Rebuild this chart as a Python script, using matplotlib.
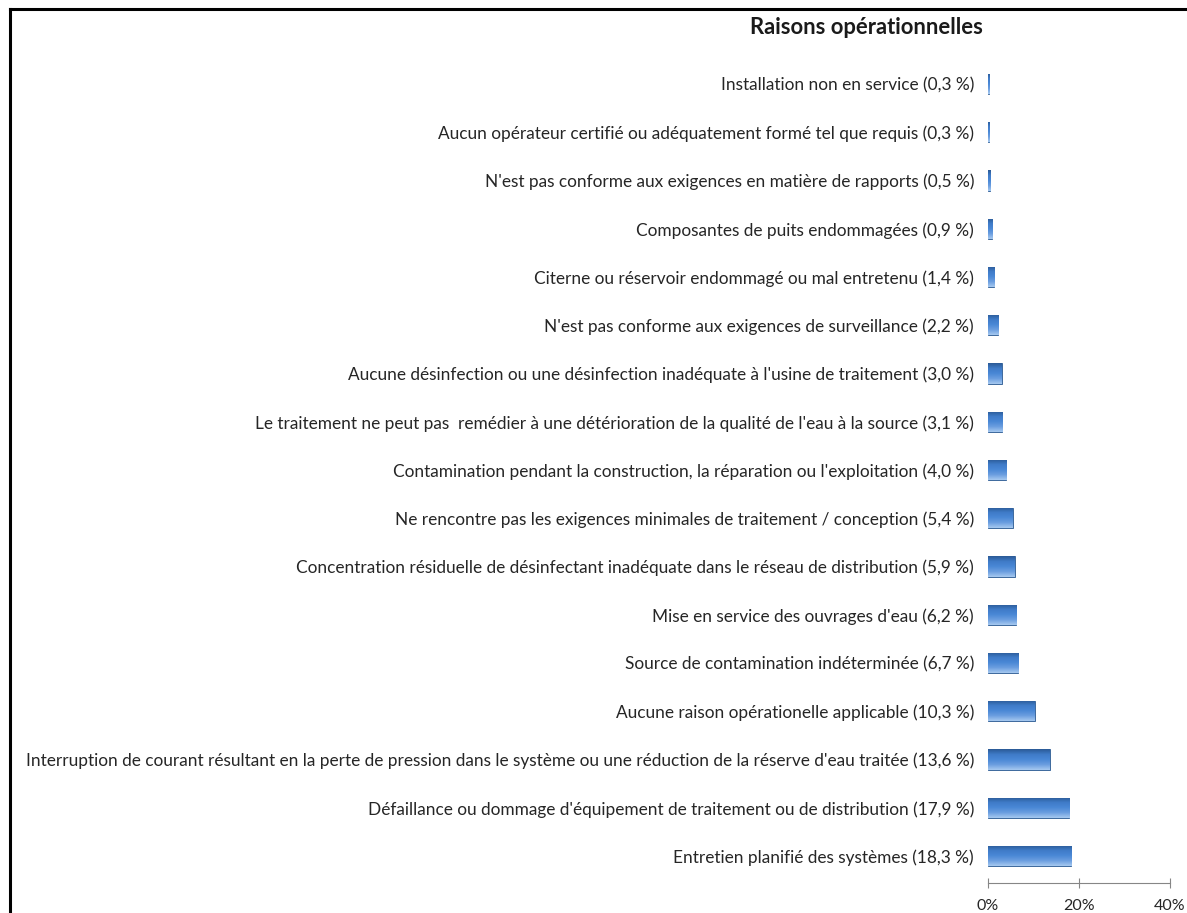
import numpy as np
import matplotlib
matplotlib.use('Agg')
import matplotlib.pyplot as plt
from matplotlib.colors import LinearSegmentedColormap
from matplotlib.lines import Line2D

# ── data (top to bottom as shown) ──
labels = [
    "Installation non en service (0,3 %)",
    "Aucun opérateur certifié ou adéquatement formé tel que requis (0,3 %)",
    "N'est pas conforme aux exigences en matière de rapports (0,5 %)",
    "Composantes de puits endommagées (0,9 %)",
    "Citerne ou réservoir endommagé ou mal entretenu (1,4 %)",
    "N'est pas conforme aux exigences de surveillance (2,2 %)",
    "Aucune désinfection ou une désinfection inadéquate à l'usine de traitement (3,0 %)",
    "Le traitement ne peut pas  remédier à une détérioration de la qualité de l'eau à la source (3,1 %)",
    "Contamination pendant la construction, la réparation ou l'exploitation (4,0 %)",
    "Ne rencontre pas les exigences minimales de traitement / conception (5,4 %)",
    "Concentration résiduelle de désinfectant inadéquate dans le réseau de distribution (5,9 %)",
    "Mise en service des ouvrages d'eau (6,2 %)",
    "Source de contamination indéterminée (6,7 %)",
    "Aucune raison opérationelle applicable (10,3 %)",
    "Interruption de courant résultant en la perte de pression dans le système ou une réduction de la réserve d'eau traitée (13,6 %)",
    "Défaillance ou dommage d'équipement de traitement ou de distribution (17,9 %)",
    "Entretien planifié des systèmes (18,3 %)",
]
values = [0.3, 0.3, 0.5, 0.9, 1.4, 2.2, 3.0, 3.1, 4.0, 5.4, 5.9, 6.2, 6.7, 10.3, 13.6, 17.9, 18.3]
xticks = [0, 20, 40]
xtick_labels = ["0%", "20%", "40%"]
title = "Raisons opérationnelles"

plt.rcParams['font.family'] = ['Lato', 'DejaVu Sans']

fig = plt.figure(figsize=(11.87, 9.13), dpi=100)
ax = fig.add_axes([988 / 1187, 30 / 913, (1170 - 988) / 1187, (883 - 57) / 913])

n = len(values)
ypos = np.arange(n)
bars = ax.barh(ypos, values, height=0.42, color='#4F81BD', edgecolor='#2E5C94', linewidth=0.6)

# bevel-like vertical gradient on each bar (light at top, dark at bottom)
cmap = LinearSegmentedColormap.from_list('bev', ['#2B5A96', '#3F7BC8', '#4A88D6', '#6B9EE0', '#A6C8F0'])
grad = np.linspace(0, 1, 64).reshape(-1, 1)
for b in bars:
    x0, y0 = b.get_x(), b.get_y()
    w, h = b.get_width(), b.get_height()
    im = ax.imshow(grad, cmap=cmap, aspect='auto', origin='lower',
                   extent=[x0, x0 + w, y0, y0 + h], zorder=2)
    im.set_clip_path(b)

ax.set_xlim(0, 40)
ax.set_ylim(n - 1 + 0.56, -0.56)
ax.set_yticks(ypos)
ax.set_yticklabels(labels, fontsize=12.4, color='#262626')
ax.tick_params(axis='y', length=0, pad=10)
ax.set_xticks(xticks)
ax.set_xticklabels(xtick_labels, fontsize=11.5, color='#262626')
ax.tick_params(axis='x', direction='inout', length=7, color='#868686', pad=8)
for s in ['top', 'right', 'left']:
    ax.spines[s].set_visible(False)
ax.spines['bottom'].set_color('#868686')

fig.text(866 / 1187, 1 - 28 / 913, title, ha='center', va='center',
         fontsize=15.8, fontweight='bold', color='#1a1a1a')

# cropped chart frame
fig.add_artist(Line2D([10 / 1187, 10 / 1187], [0, 1 - 9 / 913], color='black', lw=2.2, transform=fig.transFigure))
fig.add_artist(Line2D([10 / 1187, 1], [1 - 9 / 913, 1 - 9 / 913], color='black', lw=2.2, transform=fig.transFigure))

fig.savefig('out.png', dpi=100)
